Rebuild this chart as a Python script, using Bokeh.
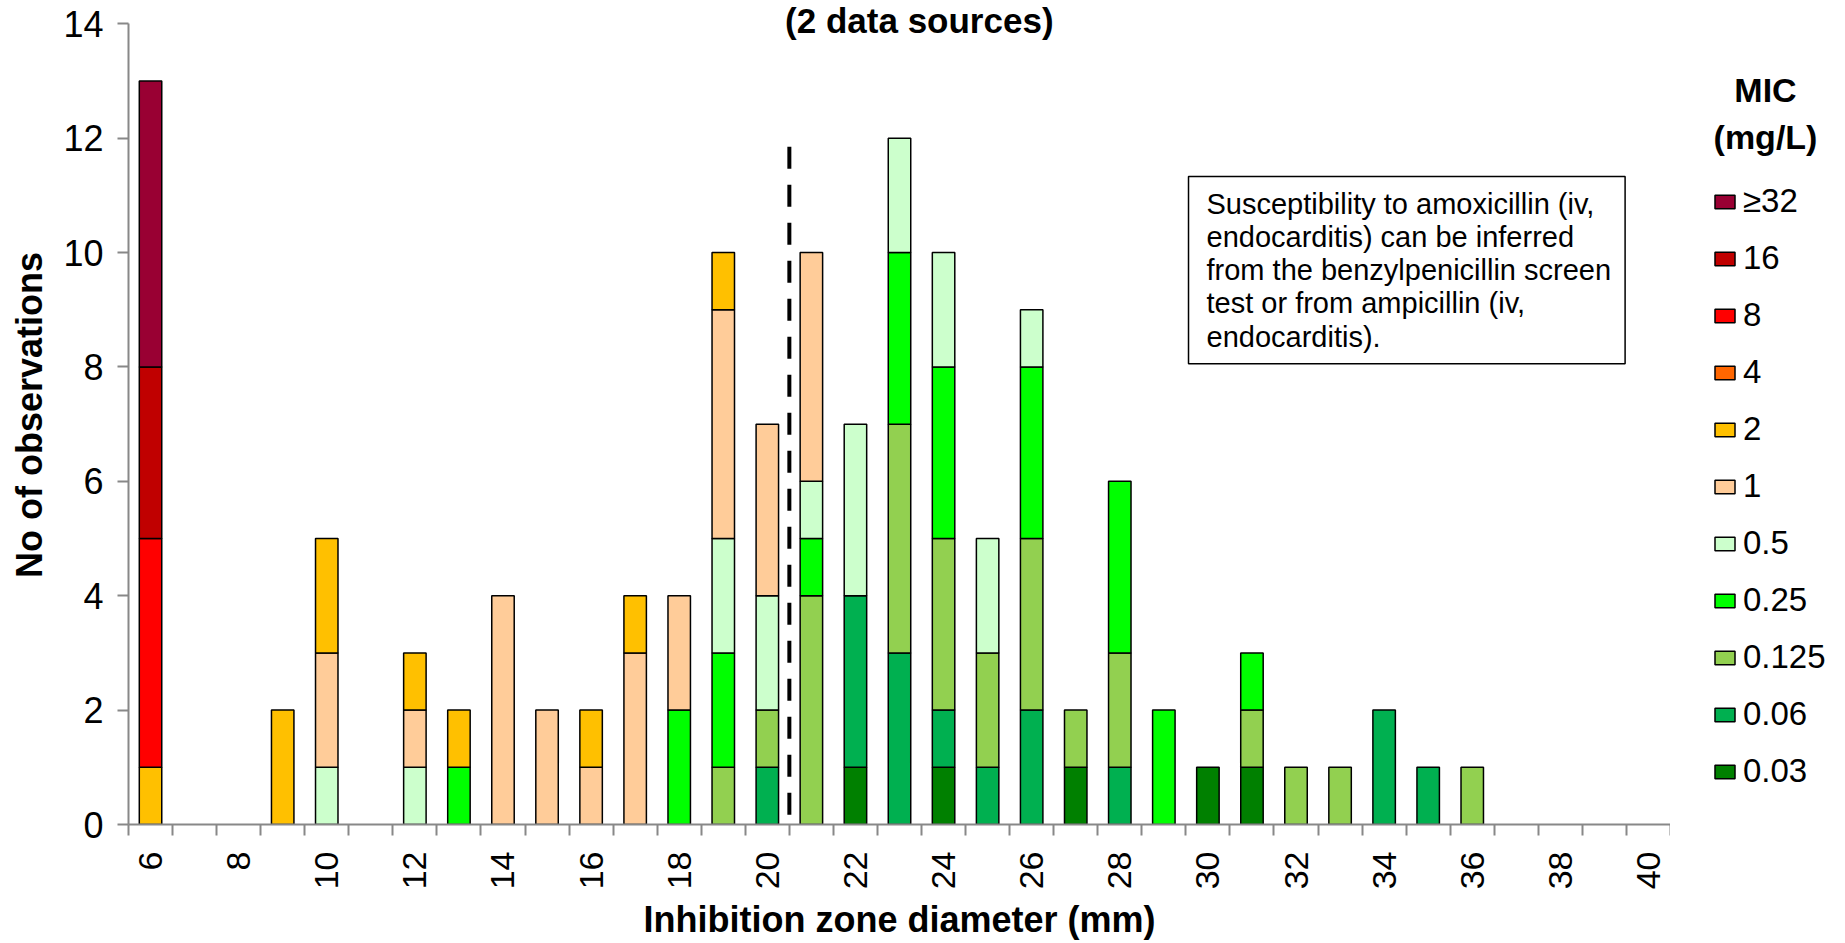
import numpy as np
from bokeh.plotting import figure
from bokeh.layouts import row
from bokeh.models import (Range1d, FixedTicker, Label, Legend, LegendItem,
                          ColumnDataSource)
from bokeh.embed import file_html
from bokeh.resources import INLINE

# Inhibition zone diameters (mm), one category per millimetre
diameters = list(range(6, 41))

# MIC classes (mg/L), stacked from the bottom up
mic_levels = ["0.03", "0.06", "0.125", "0.25", "0.5", "1", "2", "4", "8", "16", "≥32"]
mic_colors = ["#008000", "#00B050", "#92D050", "#00FF00", "#CCFFCC", "#FFCC99",
              "#FFC000", "#FF6600", "#FF0000", "#C00000", "#990033"]

# Observation counts per diameter (6 .. 40 mm) for each MIC class
mic_003 = [0, 0, 0, 0, 0, 0, 0, 0, 0, 0, 0, 0, 0, 0, 0, 0, 1, 0, 1, 0, 0, 1, 0, 0, 1, 1, 0, 0, 0, 0, 0, 0, 0, 0, 0]
mic_006 = [0, 0, 0, 0, 0, 0, 0, 0, 0, 0, 0, 0, 0, 0, 1, 0, 3, 3, 1, 1, 2, 0, 1, 0, 0, 0, 0, 0, 2, 1, 0, 0, 0, 0, 0]
mic_0125 = [0, 0, 0, 0, 0, 0, 0, 0, 0, 0, 0, 0, 0, 1, 1, 4, 0, 4, 3, 2, 3, 1, 2, 0, 0, 1, 1, 1, 0, 0, 1, 0, 0, 0, 0]
mic_025 = [0, 0, 0, 0, 0, 0, 0, 1, 0, 0, 0, 0, 2, 2, 0, 1, 0, 3, 3, 0, 3, 0, 3, 2, 0, 1, 0, 0, 0, 0, 0, 0, 0, 0, 0]
mic_05 = [0, 0, 0, 0, 1, 0, 1, 0, 0, 0, 0, 0, 0, 2, 2, 1, 3, 2, 2, 2, 1, 0, 0, 0, 0, 0, 0, 0, 0, 0, 0, 0, 0, 0, 0]
mic_1 = [0, 0, 0, 0, 2, 0, 1, 0, 4, 2, 1, 3, 2, 4, 3, 4, 0, 0, 0, 0, 0, 0, 0, 0, 0, 0, 0, 0, 0, 0, 0, 0, 0, 0, 0]
mic_2 = [1, 0, 0, 2, 2, 0, 1, 1, 0, 0, 1, 1, 0, 1, 0, 0, 0, 0, 0, 0, 0, 0, 0, 0, 0, 0, 0, 0, 0, 0, 0, 0, 0, 0, 0]
mic_4 = [0] * 35
mic_8 = [4] + [0] * 34
mic_16 = [3] + [0] * 34
mic_32 = [5] + [0] * 34

series = [mic_003, mic_006, mic_0125, mic_025, mic_05, mic_1, mic_2, mic_4, mic_8, mic_16, mic_32]

# Breakpoint marker
breakpoint_mm = 20.5
breakpoint_top = 11.85

y_ticks = [0, 2, 4, 6, 8, 10, 12, 14]
x_label_ticks = list(range(6, 41, 2))

FONT = "Liberation Sans"
AXIS_GREY = "#888888"

x_lo = diameters[0] - 0.5
x_hi = diameters[-1] + 0.5

# ---------------------------------------------------------------- main chart
p = figure(width=1670, height=943, output_backend="svg", toolbar_location=None,
           x_range=Range1d(x_lo, x_hi), y_range=Range1d(0, 14.32),
           min_border_left=128, min_border_right=0, min_border_top=5,
           min_border_bottom=115)
p.xgrid.visible = False
p.ygrid.visible = False
p.outline_line_color = None
p.background_fill_color = "white"

# Stacked bars, one renderer per MIC class, zero segments skipped
x_arr = np.array(diameters, dtype=float)
base = np.zeros(len(diameters))
for lvl, col, vals in zip(mic_levels, mic_colors, series):
    v = np.array(vals, dtype=float)
    mask = v > 0
    if mask.any():
        src = ColumnDataSource(dict(x=x_arr[mask], bottom=base[mask], top=(base + v)[mask]))
        p.vbar(x="x", bottom="bottom", top="top", width=0.51, source=src,
               fill_color=col, line_color="black", line_width=1.5)
    base = base + v

# Dashed breakpoint line, dash pattern starting from its top end
p.segment(x0=[breakpoint_mm], y0=[breakpoint_top], x1=[breakpoint_mm], y1=[0],
          line_color="black", line_width=4, line_dash="22 16")

# X axis: tick marks between categories, labels on even diameters
xa = p.xaxis[0]
xa.ticker = FixedTicker(ticks=x_label_ticks, minor_ticks=[d - 0.5 for d in diameters] + [x_hi])
xa.axis_line_color = AXIS_GREY
xa.axis_line_width = 2
xa.major_tick_out = 0
xa.major_tick_in = 0
xa.minor_tick_out = 11
xa.minor_tick_in = 0
xa.minor_tick_line_color = AXIS_GREY
xa.minor_tick_line_width = 2
xa.major_label_orientation = np.pi / 2
xa.major_label_standoff = 16
xa.major_label_text_font = FONT
xa.major_label_text_font_size = "34px"
xa.major_label_text_color = "black"
xa.axis_label = "Inhibition zone diameter (mm)"
xa.axis_label_text_font = FONT
xa.axis_label_text_font_size = "36px"
xa.axis_label_text_font_style = "bold"
xa.axis_label_text_color = "black"
xa.axis_label_standoff = 7

ya = p.yaxis[0]
ya.ticker = FixedTicker(ticks=y_ticks, minor_ticks=[])
ya.bounds = (0, 14)
ya.axis_line_color = AXIS_GREY
ya.axis_line_width = 2
ya.major_tick_out = 11
ya.major_tick_in = 0
ya.major_tick_line_color = AXIS_GREY
ya.major_tick_line_width = 2
ya.minor_tick_out = 0
ya.minor_tick_in = 0
ya.major_label_standoff = 14
ya.major_label_text_font = FONT
ya.major_label_text_font_size = "36px"
ya.major_label_text_color = "black"
ya.axis_label = "No of observations"
ya.axis_label_text_font = FONT
ya.axis_label_text_font_size = "36px"
ya.axis_label_text_font_style = "bold"
ya.axis_label_text_color = "black"
ya.axis_label_standoff = 10

# Chart subtitle
p.add_layout(Label(x=23.45, y=14, y_offset=3, text="(2 data sources)",
                   text_align="center", text_baseline="middle",
                   text_font=FONT, text_font_size="35px", text_font_style="bold",
                   text_color="black"))

# Note box
note = ("Susceptibility to amoxicillin (iv,\n"
        "endocarditis) can be inferred\n"
        "from the benzylpenicillin screen\n"
        "test or from ampicillin (iv,\n"
        "endocarditis).")
p.add_layout(Label(x=29.56, y=11.33, text=note, text_align="left", text_baseline="top",
                   text_font=FONT, text_font_size="29px", text_color="black",
                   text_line_height=1.04,
                   border_line_color="black", border_line_width=1.5,
                   background_fill_color="white",
                   padding=dict(left=18, right=14, top=11, bottom=11)))

# ---------------------------------------------------------------- legend panel
# The row aligns this frame with the chart frame (page rows 5 .. 828),
# so the vertical range is expressed in page pixels.
lg = figure(width=175, height=943, output_backend="svg", toolbar_location=None,
            x_range=Range1d(0, 175), y_range=Range1d(828, 5),
            x_axis_type=None, y_axis_type=None, min_border=0)
lg.xgrid.visible = False
lg.ygrid.visible = False
lg.outline_line_color = None

for txt, yy in [("MIC", 90), ("(mg/L)", 137)]:
    lg.add_layout(Label(x=95, y=yy, text=txt, text_align="center", text_baseline="middle",
                        text_font=FONT, text_font_size="34px", text_font_style="bold",
                        text_color="black"))

# Swatches share the bar styling of each MIC class
items = []
for lvl, col in reversed(list(zip(mic_levels, mic_colors))):
    sw = lg.vbar(x=[np.nan], top=[np.nan], width=1, fill_color=col,
                 line_color="black", line_width=1.5)
    items.append(LegendItem(label=lvl, renderers=[sw]))

legend = Legend(items=items, location=(42, 34), orientation="vertical",
                glyph_width=25, glyph_height=17, label_standoff=6, spacing=19,
                padding=0, margin=0, border_line_alpha=0, background_fill_alpha=0,
                label_text_font=FONT, label_text_font_size="33px", label_height=17,
                label_text_color="black")
lg.add_layout(legend)

layout = row(p, lg, spacing=0)
open("out.html", "w").write(file_html(layout, INLINE))
